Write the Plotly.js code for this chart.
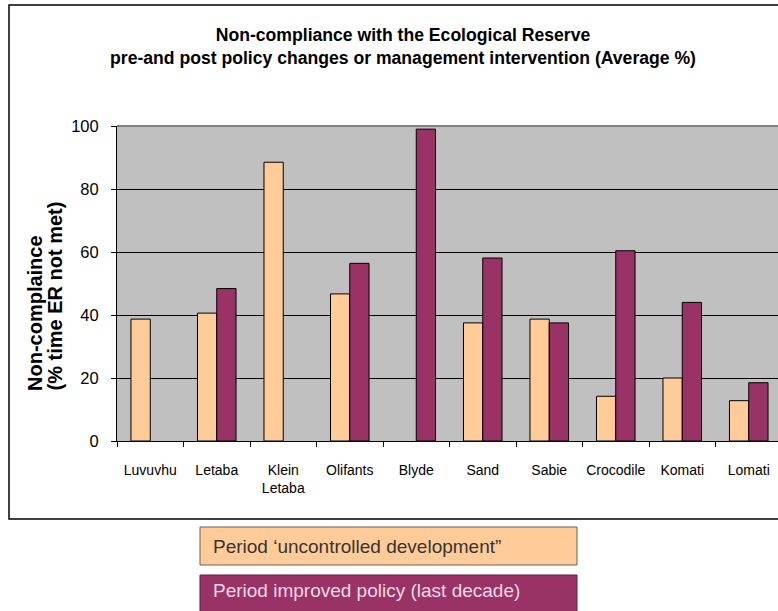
<!DOCTYPE html>
<html>
<head>
<meta charset="utf-8">
<script src="https://cdn.plot.ly/plotly-3.0.1.min.js"></script>
<style>
  html, body { margin: 0; padding: 0; background: #ffffff; overflow: hidden; }
  #chart { width: 800px; height: 611px; }
</style>
</head>
<body>
<div id="chart"></div>
<script>
// Rivers and average % of time the Ecological Reserve was not met
const rivers = ["Luvuvhu", "Letaba", "Klein<br>Letaba", "Olifants", "Blyde",
                "Sand", "Sabie", "Crocodile", "Komati", "Lomati"];
const uncontrolled = [38.7, 40.6, 88.5, 46.7, null, 37.5, 38.7, 14.2, 20.0, 12.8];
const improved     = [null, 48.4, null, 56.4, 99.0, 58.1, 37.5, 60.4, 44.0, 18.5];
const seriesNames = ["Period \u2018uncontrolled development\u201d",
                     "Period improved policy (last decade)"];
const yTicks = [0, 20, 40, 60, 80, 100];
const yTitleLines = ["Non-complaince", "(% time ER not met)"];

const SANS = "'Liberation Sans', Arial, sans-serif";

// Figure geometry (pixels)
const W = 800, H = 611;
const L = 117, R = 18, T = 126, B = 170;
const PW = W - L - R, PH = H - T - B;
const px = p => (p - L) / PW;          // pixel x -> paper x
const py = p => (T + PH - p) / PH;     // pixel y -> paper y

const traces = [
  {
    type: "bar", name: seriesNames[0], x: rivers, y: uncontrolled,
    marker: { color: "#FFCC99", line: { color: "#000000", width: 1 } },
    hoverinfo: "x+y"
  },
  {
    type: "bar", name: seriesNames[1], x: rivers, y: improved,
    marker: { color: "#993366", line: { color: "#000000", width: 1 } },
    hoverinfo: "x+y"
  }
];

// Legend entries: filled boxes under the chart frame, with the series name inside
const legendBoxes = [
  { top: 527, bottom: 565, textY: 546, fill: "#FFCC99", border: "#6f6259", text: "#3a3230" },
  { top: 575, bottom: 620, textY: 590, fill: "#993366", border: "#5e1f40", text: "#F4D8E8" }
];

const annotations = [
  // y-axis title, one rotated annotation per line
  ...yTitleLines.map((line, i) => ({
    text: "<b>" + line + "</b>",
    textangle: -90, showarrow: false,
    xref: "paper", yref: "paper",
    x: px(i === 0 ? 35 : 54), y: py(393), xanchor: "center", yanchor: "bottom",
    font: { family: SANS, size: 20, color: "#000000" }
  })),
  ...legendBoxes.map((b, i) => ({
    text: seriesNames[i], showarrow: false, align: "left",
    xref: "paper", yref: "paper",
    x: px(211), y: py(b.textY), xanchor: "left", yanchor: "middle",
    font: { family: SANS, size: 19, color: b.text }
  }))
];

const shapes = [
  // chart area frame
  { type: "rect", xref: "paper", yref: "paper", layer: "below",
    x0: px(9), x1: px(815), y0: py(519), y1: py(5),
    line: { color: "#000000", width: 1.5 }, fillcolor: "rgba(0,0,0,0)" },
  // plot area top edge
  { type: "line", xref: "paper", yref: "paper",
    x0: 0, x1: 1, y0: 1, y1: 1,
    line: { color: "#808080", width: 2 } },
  ...legendBoxes.map(b => ({
    type: "rect", xref: "paper", yref: "paper", layer: "below",
    x0: px(200), x1: px(577), y0: py(b.bottom), y1: py(b.top),
    line: { color: b.border, width: 1 }, fillcolor: b.fill
  }))
];

const layout = {
  width: W, height: H,
  margin: { l: L, r: R, t: T, b: B, pad: 0 },
  paper_bgcolor: "#ffffff",
  plot_bgcolor: "#C0C0C0",
  showlegend: false,
  barmode: "group",
  bargap: 0.42,
  bargroupgap: 0,
  title: {
    text: "<b>Non-compliance with the Ecological Reserve<br>pre-and post policy changes or management intervention (Average %)</b>",
    font: { family: SANS, size: 17.6, color: "#000000" },
    xref: "container", x: 403 / W, xanchor: "center",
    yref: "container", y: 1 - 41 / H, yanchor: "middle"
  },
  xaxis: {
    type: "category",
    tickson: "boundaries",
    tickangle: 0,
    ticks: "outside", ticklen: 5, tickcolor: "#000000", tickwidth: 1,
    showline: true, linecolor: "#000000", linewidth: 1,
    showgrid: false, zeroline: false,
    tickfont: { family: SANS, size: 14, color: "#000000" },
    ticklabelstandoff: 16,
    fixedrange: true
  },
  yaxis: {
    range: [0, 100],
    tickvals: yTicks,
    ticktext: yTicks.map(String),
    ticks: "outside", ticklen: 5, tickcolor: "#000000", tickwidth: 1,
    showline: true, linecolor: "#000000", linewidth: 1,
    showgrid: true, gridcolor: "#000000", gridwidth: 1,
    zeroline: false,
    tickfont: { family: SANS, size: 16.5, color: "#000000" },
    ticklabelstandoff: 9,
    fixedrange: true
  },
  shapes: shapes,
  annotations: annotations
};

Plotly.newPlot("chart", traces, layout, { displayModeBar: false, staticPlot: true });
</script>
</body>
</html>
